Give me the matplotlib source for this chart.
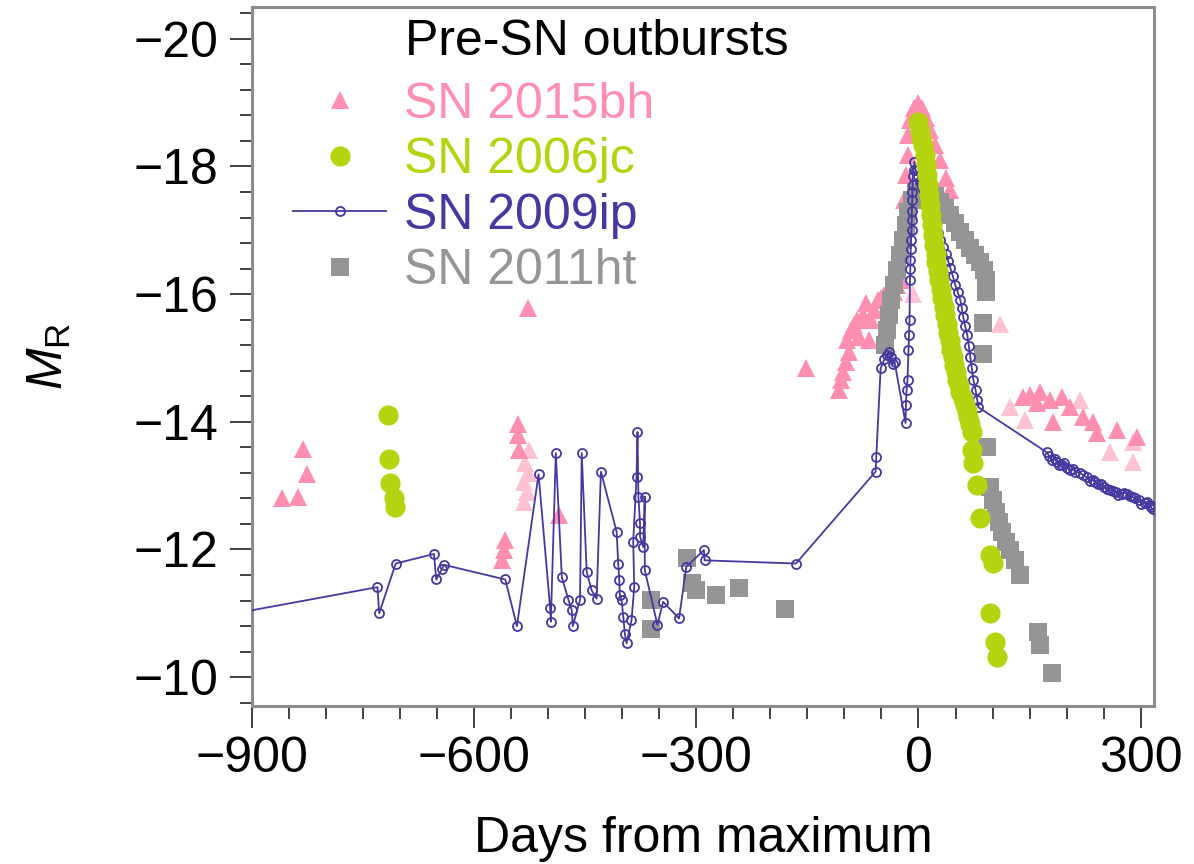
import matplotlib
matplotlib.use("Agg")
import matplotlib.pyplot as plt
from matplotlib.ticker import MultipleLocator

plt.rcParams['font.family'] = ['Liberation Sans', 'DejaVu Sans']
plt.rcParams['mathtext.fontset'] = 'custom'
plt.rcParams['mathtext.rm'] = 'Liberation Sans'
plt.rcParams['mathtext.it'] = 'Liberation Sans:italic'

# SN 2015bh (pink triangles) - days from maximum, M_R
bh_days = [-859, -838, -831, -826,
           -541, -541, -540, -558, -560, -562, -486, -527,
           -152.0, -107.6, -104.9, -102.2, -98.2, -94.2, -96.9, -91.5, -87.4, -83.4,
           -80.7, -75.3, -71.3, -67.3, -64.6, -60.5, -55.2, -51.1, -47.1, -43.0,
           -37.7, -33.6, -29.6, -24.2,
           -20.2, -20.2, -17.5, -14.8, -13.5, -10.8, -5.4, 0.0, 5.4, 10.8, 16.1,
           22.9, 29.6, 37.7, 43.0,
           141.3, 150.7, 164.1, 160.1, 177.6, 181.6, 193.7, 204.5, 222.0, 235.4,
           240.8, 267.7, 294.6]
bh_mag = [-12.80, -12.83, -13.58, -13.19,
          -13.97, -13.79, -13.56, -12.15, -11.99, -11.83, -12.54, -15.78,
          -14.84, -14.50, -14.66, -14.78, -14.94, -15.09, -15.28, -15.44, -15.52, -15.60,
          -15.33, -15.67, -15.86, -15.28, -15.60, -15.75, -15.91, -15.94, -15.99, -15.83,
          -15.91, -16.03, -16.14, -16.22,
          -16.93, -17.48, -17.87, -18.18, -18.50, -18.73, -18.92, -19.00, -18.92, -18.76, -18.57,
          -18.34, -18.10, -17.82, -17.63,
          -14.39, -14.42, -14.47, -14.29, -14.34, -14.00, -14.39, -14.23, -14.08, -14.00,
          -13.82, -13.87, -13.76]

# SN 2015bh, lighter points
bh_light_days = [-531, -527, -533, -529, -532, -526, -8.0, 110.3,
                 123.8, 143.9, 217.9, 258.3, 289.3, 289.3]
bh_light_mag = [-13.35, -13.20, -13.05, -12.90, -12.75, -13.56, -16.0, -15.54,
                -14.23, -14.03, -14.34, -13.53, -13.37, -13.68]

# SN 2006jc (green circles)
jc_days = [-716, -715, -714, -708, -707,
           0.0, 1.5, 3.5, 6.7, 8.5, 10.8, 12.0, 13.5, 14.8, 16.1, 17.5, 18.8, 20.0,
           21.5, 23.0, 24.2, 26.0, 28.3, 30.0, 32.3, 34.0, 36.3, 38.0, 40.4, 42.0,
           44.4, 46.0, 48.4, 50.0, 52.5, 54.5, 56.5, 60.0, 63.2, 65.0, 67.3, 70.0,
           72.6, 72.6, 74.0, 79.4, 83.4, 96.9, 100.9, 96.9, 103.6, 106.3]
jc_mag = [-14.10, -13.42, -13.04, -12.80, -12.66,
          -18.70, -18.55, -18.45, -18.34, -18.18, -18.02, -17.86, -17.71, -17.55,
          -17.40, -17.24, -17.08, -16.92, -16.77, -16.63, -16.50, -16.36, -16.22,
          -16.08, -15.94, -15.80, -15.67, -15.53, -15.39, -15.26, -15.13, -15.01,
          -14.89, -14.78, -14.66, -14.57, -14.47, -14.36, -14.26, -14.17, -14.08,
          -13.96, -13.84, -13.56, -13.35, -13.01, -12.49, -11.91, -11.79, -11.00,
          -10.55, -10.31]

# SN 2009ip (line with open circles)
ip_days = [-960, -730.5, -728.2, -705.9, -654.2, -651.2, -643.1, -640.8, -557.9,
           -542.2, -513.0, -497.4, -496.4, -489.7, -481.6, -472.6, -468.2, -466.8,
           -457.0, -454.7, -448.0, -441.3, -434.6, -428.8, -407.6, -405.4, -404.0,
           -403.2, -400.9, -398.6, -396.5, -394.2, -387.5, -383.8, -385.2, -380.7,
           -379.4, -378.2, -376.0, -376.0, -371.7, -369.6, -369.6, -352.5, -344.8,
           -323.3, -313.5, -289.7, -288.8, -165.5, -57.9, -57.0, -51.1, -46.0,
           -43.0, -40.0, -37.7, -35.0, -32.3, -17.5, -17.0, -16.1, -14.8, -13.5,
           -12.8, -12.1, -11.5, -11.0, -10.8, -10.5, -10.0, -9.4, -9.0, -9.0,
           -8.5, -8.1, -7.8, -7.5, -6.7, -5.5, -4.0,
           0.0, 2.7, 6.0, 9.4, 12.5, 16.1, 19.5, 22.9, 26.0, 29.6, 33.5, 37.7,
           40.0, 43.0, 46.5, 49.8, 53.0, 56.5, 58.5, 60.5, 63.0, 65.9, 68.0, 70.0,
           72.0, 74.0, 77.0, 79.4, 80.7,
           173.5, 176.0, 180.3, 184.0, 187.0, 190.0, 193.7, 197.0, 200.4, 204.0,
           208.5, 212.0, 217.9, 222.0, 227.3, 231.0, 235.4, 238.0, 242.1, 246.0,
           250.2, 254.0, 258.3, 262.0, 266.4, 270.0, 274.4, 278.0, 281.2, 285.0,
           289.3, 293.0, 297.3, 301.0, 305.4, 308.0, 312.1, 314.0, 316.2]
ip_mag = [-10.92, -11.41, -11.00, -11.78, -11.93, -11.53, -11.70, -11.76, -11.53,
          -10.80, -13.18, -11.09, -10.87, -13.51, -11.57, -11.21, -11.05, -10.80,
          -11.21, -13.51, -11.65, -11.36, -11.23, -13.22, -12.28, -11.78, -11.52,
          -11.29, -11.21, -10.95, -10.68, -10.53, -10.89, -11.41, -12.12, -13.14,
          -13.84, -12.83, -12.41, -12.20, -12.04, -12.83, -11.68, -10.82, -11.18,
          -10.92, -11.73, -11.99, -11.83, -11.78, -13.22, -13.45, -14.84, -14.98,
          -15.05, -15.10, -15.02, -14.90, -14.94, -13.98, -14.26, -14.50, -14.66,
          -15.13, -15.36, -15.60, -16.22, -16.40, -16.54, -16.70, -16.85, -17.00,
          -17.16, -17.30, -17.48, -17.60, -17.71, -17.85, -17.95, -18.07, -17.95,
          -17.85, -17.76, -17.65, -17.55, -17.43, -17.32, -17.20, -17.08, -16.96,
          -16.85, -16.74, -16.63, -16.52, -16.41, -16.28, -16.14, -16.03, -15.91,
          -15.78, -15.64, -15.50, -15.36, -15.19, -15.02, -14.84, -14.66, -14.50,
          -14.34, -14.23,
          -13.52, -13.47, -13.40, -13.42, -13.37, -13.33, -13.32, -13.36, -13.28,
          -13.25, -13.26, -13.22, -13.20, -13.17, -13.13, -13.08, -13.09, -13.06,
          -13.03, -13.02, -12.98, -12.95, -12.93, -12.92, -12.90, -12.86, -12.87,
          -12.89, -12.87, -12.84, -12.82, -12.80, -12.77, -12.72, -12.73, -12.74,
          -12.70, -12.66, -12.63]

# SN 2011ht (grey squares)
ht_days = [-361.5, -360.6, -312.1, -305.8, -300.0, -273.1, -241.8, -180.3,
           -45.7, -43.0, -40.4, -37.7, -33.6, -29.6, -25.6, -21.5, -17.5, -13.5,
           -8.1, -2.7, 9.4, 16.1, 22.9, 29.6, 36.3, 43.0, 49.8, 56.5, 63.2, 70.0,
           76.7, 83.4, 88.8, 91.5, 91.5, 87.4, 87.4, 92.8, 96.9, 100.9, 104.9,
           109.0, 113.0, 118.4, 123.8, 130.5, 137.2, 161.4, 164.1, 180.3]
ht_mag = [-10.76, -11.21, -11.86, -11.47, -11.37, -11.29, -11.40, -11.06,
          -15.20, -15.44, -15.67, -15.91, -16.14, -16.38, -16.61, -16.85, -17.08,
          -17.29, -17.48, -17.60, -17.63, -17.60, -17.54, -17.45, -17.35, -17.24,
          -17.11, -16.97, -16.85, -16.72, -16.61, -16.50, -16.38, -16.22, -16.03,
          -15.55, -15.06, -13.61, -12.98, -12.77, -12.59, -12.43, -12.27, -12.12,
          -11.99, -11.83, -11.60, -10.71, -10.50, -10.06]

pink = '#ff8fb0'
pink_light = '#ffc2d2'
green = '#b5d30f'
blue = '#45389f'
grey = '#959595'

fig = plt.figure(figsize=(11.94, 8.64), dpi=100)
ax = fig.add_axes([0.211, 0.183, 0.7555, 0.809])

ax.plot(bh_light_days, bh_light_mag, '^', color=pink_light, ms=13, mew=0, zorder=2)
h_bh, = ax.plot(bh_days, bh_mag, '^', color=pink, ms=13, mew=0, zorder=3)
h_ht, = ax.plot(ht_days, ht_mag, 's', color=grey, ms=13, mew=0, zorder=4)
h_ip, = ax.plot(ip_days, ip_mag, '-o', color=blue, lw=1.3, ms=6.5, mfc='none',
                mec=blue, mew=1.3, zorder=5)
h_jc, = ax.plot(jc_days, jc_mag, 'o', color=green, ms=14.5, mew=0, zorder=6)

ax.set_xlim(-900, 318)
ax.set_ylim(-9.55, -20.5)

ax.xaxis.set_major_locator(MultipleLocator(300))
ax.xaxis.set_minor_locator(MultipleLocator(50))
ax.yaxis.set_major_locator(MultipleLocator(2))
ax.yaxis.set_minor_locator(MultipleLocator(0.4))
ax.tick_params(which='major', direction='out', length=16, width=1.3,
               color='#333333', labelsize=36, pad=6)
ax.tick_params(which='minor', direction='out', length=9, width=1.3, color='#333333')
ax.tick_params(axis='y', pad=8)

for s in ax.spines.values():
    s.set_color('#8c8c8c')
    s.set_linewidth(2.2)

ax.set_xlabel('Days from maximum', fontsize=36, labelpad=24)
ax.set_ylabel(r'$\mathit{M}_{\mathrm{R}}$', fontsize=36, labelpad=44)

ax.text(0.1696, 0.95, 'Pre-SN outbursts', transform=ax.transAxes,
        fontsize=36, ha='left', va='center', color='black')

leg = ax.legend([h_bh, h_jc, h_ip, h_ht],
                ['SN 2015bh', 'SN 2006jc', 'SN 2009ip', 'SN 2011ht'],
                loc='upper left', bbox_to_anchor=(0.046, 0.893), frameon=False,
                fontsize=36, handlelength=1.86, handletextpad=0.36,
                labelspacing=0.19, borderpad=0, borderaxespad=0)
for txt, c in zip(leg.get_texts(), [pink, green, blue, grey]):
    txt.set_color(c)

fig.savefig('out.png', dpi=100)
